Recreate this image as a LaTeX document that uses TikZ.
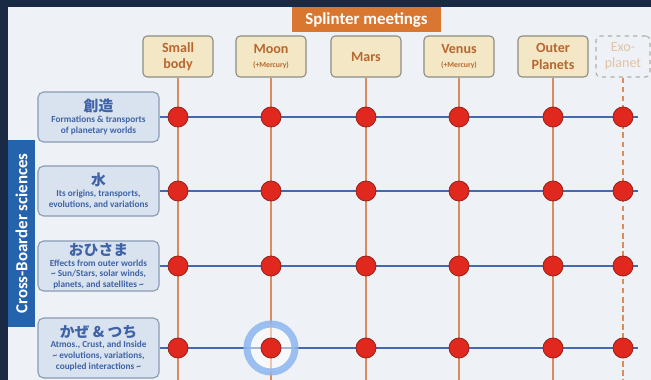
\documentclass[tikz,border=0pt]{standalone}
\usepackage{fontspec}
\setmainfont{Carlito}
\newfontfamily\jpfont{Noto Sans CJK JP}
\newcommand\rowtitle{\jpfont\fontsize{10.5}{13}\selectfont}
\newcommand\colsub{\fontsize{5.5}{6.5}\selectfont}
\definecolor{framenavy}{HTML}{1B2A44}
\definecolor{slidebg}{HTML}{EEF1F5}
\definecolor{sidebarblue}{HTML}{2563AD}
\definecolor{splinterorange}{HTML}{D9762F}
\definecolor{colfill}{HTML}{F4E7C5}
\definecolor{colborder}{HTML}{8E8E86}
\definecolor{coltext}{HTML}{B8672F}
\definecolor{exotext}{HTML}{E3C2A6}
\definecolor{rowfill}{HTML}{D9E3EF}
\definecolor{rowborder}{HTML}{8B9BB3}
\definecolor{rowtext}{HTML}{3F63A6}
\definecolor{rowblue}{HTML}{4569B0}
\definecolor{colline}{HTML}{D98D5C}
\definecolor{dotred}{HTML}{E0281E}
\definecolor{dotedge}{HTML}{9A2018}
\definecolor{haloblue}{HTML}{8DB6F0}
\tikzset{
  slide/.style={fill=slidebg, draw=none},
  sidebar/.style={fill=sidebarblue, text=white, rotate=90, minimum width=4.675cm, minimum height=0.675cm, inner sep=0pt, font=\bfseries\fontsize{12}{14}\selectfont},
  splinter/.style={fill=splinterorange, text=white, minimum width=3.725cm, minimum height=0.625cm, inner sep=0pt, font=\bfseries\fontsize{12}{14}\selectfont},
  colbox/.style={draw=colborder, fill=colfill, rounded corners=3pt, line width=0.8pt, minimum width=1.75cm, minimum height=1.025cm, inner sep=1pt, align=center, text=coltext, font=\bfseries\fontsize{10}{11.5}\selectfont},
  exobox/.style={colbox, dashed, draw=colborder!70, fill=slidebg, text=exotext, minimum width=1.35cm, font=\fontsize{10}{11.5}\selectfont},
  rowbox/.style={draw=rowborder, fill=rowfill, rounded corners=4pt, line width=0.8pt, minimum width=3.025cm, minimum height=1.25cm, inner sep=1pt, align=center, text=rowtext, font=\bfseries\fontsize{6.6}{7.6}\selectfont},
  colline/.style={draw=colline, line width=1.5pt},
  rowline/.style={draw=rowblue, line width=2.1pt},
  hit/.style={circle, fill=dotred, draw=dotedge, line width=0.6pt, minimum size=0.5cm, inner sep=0pt},
  halo/.style={circle, draw=haloblue, line width=5pt, fill=white, fill opacity=0.5, draw opacity=0.85, minimum size=1.2cm, inner sep=0pt},
}

\begin{document}
\begin{tikzpicture}[x=0.025cm, y=-0.025cm]
\useasboundingbox (0,0) rectangle (651,380);
\fill[framenavy] (0,0) rectangle (651,380);
\fill[slide] (8,7) rectangle (651,380);

% headings
\node[splinter] (splinter) at (366.5,19.5) {Splinter meetings};
\node[sidebar] (cross) at (21.5,233.5) {Cross-Boarder sciences};

% splinter meetings
\node[colbox] (sbody) at (178,56.5) {Small\\body};
\node[colbox] (moon) at (271,56.5) {Moon\\[-2pt]{\colsub(+Mercury)}};
\node[colbox] (mars) at (366,56.5) {Mars};
\node[colbox] (venus) at (459,56.5) {Venus\\[-2pt]{\colsub(+Mercury)}};
\node[colbox] (outer) at (553,56.5) {Outer\\Planets};
\node[exobox] (exo) at (623,56.5) {Exo-\\planet};

% cross-boarder sciences
\node[rowbox] (sozo) at (98.5,117) {{\rowtitle 創造}\\Formations \& transports\\of planetary worlds};
\node[rowbox] (mizu) at (98.5,191) {{\rowtitle 水}\\Its origins, transports,\\evolutions, and variations};
\node[rowbox] (ohisama) at (98.5,266) {{\rowtitle おひさま}\\Effects from outer worlds\\\textasciitilde{} Sun/Stars, solar winds,\\planets, and satellites \textasciitilde};
\node[rowbox, minimum height=1.5cm] (kazetsuchi) at (98.5,348) {{\rowtitle かぜ \& つち}\\Atmos., Crust, and Inside\\\textasciitilde{} evolutions, variations,\\coupled interactions \textasciitilde};

% connectors
\foreach \c in {sbody,moon,mars,venus,outer} {
  \coordinate (\c-foot) at (\c |- 0,380);
  \draw[colline] (\c.south) -- (\c-foot);
}
\coordinate (exo-foot) at (exo |- 0,380);
\draw[colline, dash pattern=on 4pt off 2.5pt] (exo.south) -- (exo-foot);
\foreach \r in {sozo,mizu,ohisama,kazetsuchi} {
  \coordinate (\r-tip) at (\r -| 638,0);
  \draw[rowline] (\r.east) -- (\r-tip);
}

% crossings
\node[halo] (focus) at (moon |- kazetsuchi) {};
\foreach \c in {sbody,moon,mars,venus,outer,exo}
  \foreach \r in {sozo,mizu,ohisama,kazetsuchi}
    \node[hit] (\c-\r) at (\c |- \r) {};
\end{tikzpicture}
\end{document}
